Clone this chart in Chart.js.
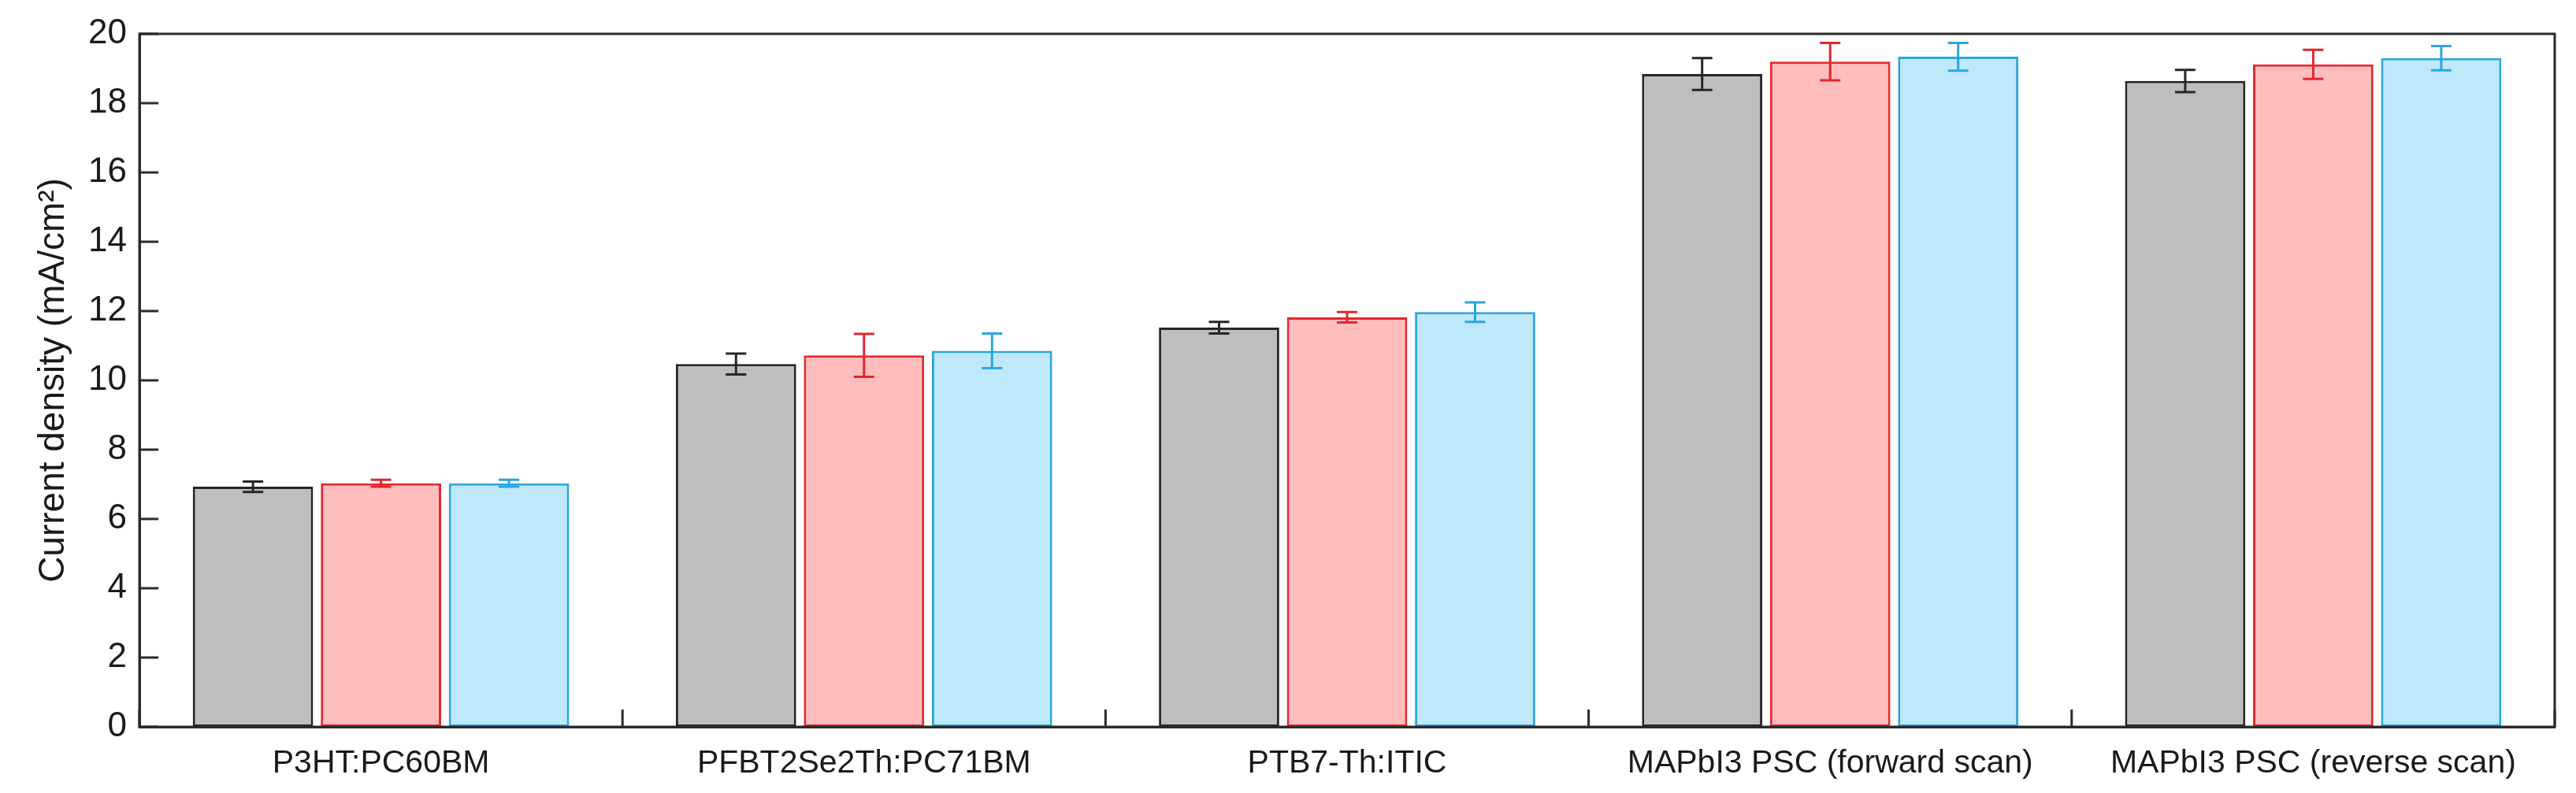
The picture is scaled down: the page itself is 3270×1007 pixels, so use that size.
<!DOCTYPE html>
<html>
<head>
<meta charset="utf-8">
<title>Current density</title>
<script src="https://cdn.jsdelivr.net/npm/chart.js@4.4.1/dist/chart.umd.min.js"></script>
<style>
  html, body { margin: 0; padding: 0; background: #fff; }
  #wrap { width: 3270px; height: 1007px; }
</style>
</head>
<body>
<div id="wrap"><canvas id="jscChart" width="3270" height="1007"></canvas></div>
<script>
// 카테고리 / 값 / 오차
var categories = ['P3HT:PC60BM', 'PFBT2Se2Th:PC71BM', 'PTB7-Th:ITIC', 'MAPbI3 PSC (forward scan)', 'MAPbI3 PSC (reverse scan)'];
var grayValues = [6.93, 10.47, 11.52, 18.84, 18.64];
var grayErrors = [0.15, 0.30, 0.17, 0.46, 0.32];
var redValues = [7.03, 10.72, 11.82, 19.20, 19.12];
var redErrors = [0.10, 0.62, 0.15, 0.54, 0.42];
var blueValues = [7.03, 10.85, 11.97, 19.34, 19.30];
var blueErrors = [0.10, 0.50, 0.28, 0.40, 0.35];
var yTicks = [0, 2, 4, 6, 8, 10, 12, 14, 16, 18, 20];

var FONT = '"Liberation Sans", Arial, sans-serif';
var AXIS_COLOR = '#2b2b2b';

// 오차 막대 그리기
var errorBarPlugin = {
    id: 'errorBars',
    afterDatasetsDraw: function(chart) {
        var ctx = chart.ctx;
        var yScale = chart.scales.y;
        chart.data.datasets.forEach(function(ds, i) {
            var meta = chart.getDatasetMeta(i);
            ctx.save();
            ctx.strokeStyle = ds.errorColor;
            ctx.lineWidth = 3;
            meta.data.forEach(function(bar, j) {
                var v = ds.data[j];
                var e = ds.errors[j];
                var yTop = yScale.getPixelForValue(v + e);
                var yBot = yScale.getPixelForValue(v - e);
                var half = 13;
                ctx.beginPath();
                ctx.moveTo(bar.x, yTop);
                ctx.lineTo(bar.x, yBot);
                ctx.moveTo(bar.x - half, yTop);
                ctx.lineTo(bar.x + half, yTop);
                ctx.moveTo(bar.x - half, yBot);
                ctx.lineTo(bar.x + half, yBot);
                ctx.stroke();
            });
            ctx.restore();
        });
    }
};

// 안쪽 눈금 + 테두리
var frameTicksPlugin = {
    id: 'frameTicks',
    afterDraw: function(chart) {
        var ctx = chart.ctx;
        var area = chart.chartArea;
        var xScale = chart.scales.x;
        var yScale = chart.scales.y;
        ctx.save();
        ctx.strokeStyle = AXIS_COLOR;
        ctx.lineWidth = 3;
        ctx.beginPath();
        yScale.ticks.forEach(function(t) {
            var py = yScale.getPixelForValue(t.value);
            ctx.moveTo(area.left, py);
            ctx.lineTo(area.left + 24, py);
        });
        var n = categories.length;
        var bounds = [area.left];
        for (var i = 0; i < n - 1; i++) {
            bounds.push((xScale.getPixelForValue(i) + xScale.getPixelForValue(i + 1)) / 2);
        }
        bounds.push(area.right);
        bounds.forEach(function(bx) {
            ctx.moveTo(bx, area.bottom);
            ctx.lineTo(bx, area.bottom - 22);
        });
        ctx.stroke();
        ctx.beginPath();
        ctx.rect(area.left, area.top, area.right - area.left, area.bottom - area.top);
        ctx.stroke();
        ctx.restore();
    }
};

function makeDataset(label, values, errors, fill, line) {
    return {
        label: label,
        data: values,
        errors: errors,
        errorColor: line,
        backgroundColor: fill,
        borderColor: line,
        borderWidth: 3,
        borderSkipped: false,
        categoryPercentage: 0.795,
        barPercentage: 0.94
    };
}

var ctx = document.getElementById('jscChart').getContext('2d');
window.jscChart = new Chart(ctx, {
    type: 'bar',
    data: {
        labels: categories,
        datasets: [
            makeDataset('A', grayValues, grayErrors, '#bebebe', '#262626'),
            makeDataset('B', redValues, redErrors, '#ffbdbd', '#e5262e'),
            makeDataset('C', blueValues, blueErrors, '#bfe8fb', '#2aa6e0')
        ]
    },
    options: {
        responsive: false,
        animation: false,
        devicePixelRatio: 1,
        layout: { padding: { top: 43, right: 27, left: 0, bottom: 0 } },
        plugins: {
            legend: { display: false },
            tooltip: { enabled: false }
        },
        scales: {
            x: {
                offset: true,
                grid: { display: false },
                border: { display: true, color: AXIS_COLOR, width: 3 },
                ticks: {
                    color: '#1a1a1a',
                    font: { family: FONT, size: 41 },
                    padding: 14,
                    maxRotation: 0,
                    autoSkip: false
                },
                afterFit: function(scale) { scale.height = 84; }
            },
            y: {
                min: 0,
                max: 20,
                afterBuildTicks: function(scale) {
                    scale.ticks = yTicks.map(function(v) { return { value: v }; });
                },
                grid: { display: false, drawTicks: false },
                border: { display: true, color: AXIS_COLOR, width: 3 },
                ticks: {
                    color: '#1a1a1a',
                    font: { family: FONT, size: 44 },
                    padding: 16
                },
                title: {
                    display: true,
                    text: 'Current density (mA/cm\u00B2)',
                    color: '#1a1a1a',
                    font: { family: FONT, size: 46 },
                    padding: { top: 41, bottom: 0 }
                },
                afterFit: function(scale) { scale.width = 177; }
            }
        }
    },
    plugins: [errorBarPlugin, frameTicksPlugin]
});
</script>
</body>
</html>
